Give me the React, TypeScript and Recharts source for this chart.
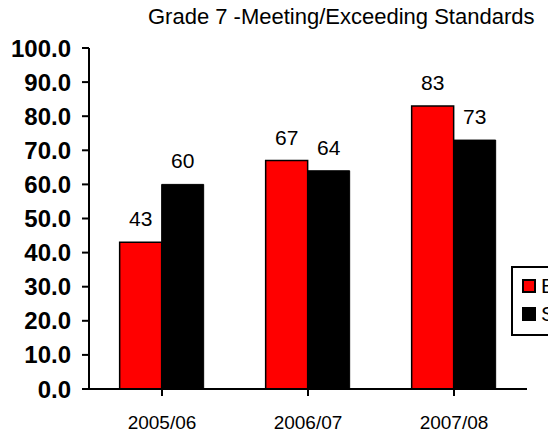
import React from "react";
import { BarChart, Bar, XAxis, YAxis, LabelList } from "recharts";

const years = ["2005/06", "2006/07", "2007/08"];
const board = [43, 67, 83];
const school = [60, 64, 73];
const yTicks = [0, 10, 20, 30, 40, 50, 60, 70, 80, 90, 100];
const seriesNames = ["Board", "School"];

const data = years.map((y, i) => ({ year: y, Board: board[i], School: school[i] }));

const font = "'Liberation Sans', Arial, sans-serif";

export default function App() {
    return (
        <div style={{ position: "absolute", left: 0, top: 0, width: 548, height: 438, overflow: "hidden", background: "#fff", fontFamily: font }}>
            <div style={{ position: "absolute", left: 148, top: 4, fontSize: 22, color: "#000", whiteSpace: "nowrap" }}>
                Grade 7 -Meeting/Exceeding Standards
            </div>
            <BarChart
                width={548}
                height={438}
                data={data}
                margin={{ top: 48, right: 21, bottom: 0, left: 0 }}
                barCategoryGap="21%"
                barGap={0}
            >
                <YAxis
                    width={89}
                    domain={[0, 100]}
                    ticks={yTicks}
                    interval={0}
                    tickFormatter={(v: number) => v.toFixed(1)}
                    tick={{ fill: "#000", fontSize: 24, fontWeight: "bold", fontFamily: font }}
                    tickSize={7}
                    tickMargin={11}
                    stroke="#000"
                    strokeWidth={2}
                />
                <XAxis
                    dataKey="year"
                    height={49}
                    tick={{ fill: "#000", fontSize: 19, fontFamily: font }}
                    tickSize={7}
                    tickMargin={20}
                    stroke="#000"
                    strokeWidth={2}
                />
                <Bar dataKey="Board" fill="#ff0000" stroke="#000" strokeWidth={1.5} isAnimationActive={false}>
                    <LabelList dataKey="Board" position="top" offset={16} fill="#000" fontSize={21} fontFamily={font} />
                </Bar>
                <Bar dataKey="School" fill="#000" stroke="#000" strokeWidth={1} isAnimationActive={false}>
                    <LabelList dataKey="School" position="top" offset={16} fill="#000" fontSize={21} fontFamily={font} />
                </Bar>
            </BarChart>
            <div style={{ position: "absolute", left: 511, top: 266, width: 90, height: 70, border: "2px solid #000", boxSizing: "border-box", background: "#fff" }}>
                {seriesNames.map((n, i) => (
                    <div key={n} style={{ position: "absolute", left: 9, top: 6 + i * 28, display: "flex", alignItems: "center", fontSize: 21, lineHeight: "24px", whiteSpace: "nowrap" }}>
                        <span style={{ display: "inline-block", width: 10, height: 10, background: i === 0 ? "#ff0000" : "#000", border: "2px solid #000", marginRight: 5 }} />
                        {n}
                    </div>
                ))}
            </div>
        </div>
    );
}
